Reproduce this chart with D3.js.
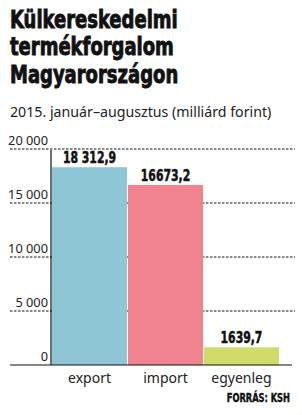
<!DOCTYPE html>
<html>
<head>
<meta charset="utf-8">
<script src="https://cdn.jsdelivr.net/npm/d3@7"></script>
<style>
  body { margin: 0; background: #fff; }
  svg { display: block; }
</style>
</head>
<body>
<div id="chart"></div>
<script>
const categories = ['export', 'import', 'egyenleg'];
const values = [18312.9, 16673.2, 1639.7];
const valueLabels = ['18 312,9', '16673,2', '1639,7'];
const yTicks = [0, 5000, 10000, 15000, 20000];
const titleLines = ['Külkereskedelmi', 'termékforgalom', 'Magyarországon'];
const subtitle = '2015. január–augusztus (milliárd forint)';
const source = 'FORRÁS: KSH';
const colors = ['#8ec6d6', '#f0848e', '#cfdc6a'];

const W = 302, H = 415;
const condensed = "'DejaVu Sans Condensed', 'DejaVu Sans', sans-serif";
const body = "'Noto Sans', 'Open Sans', sans-serif";

const svg = d3.select('#chart')
  .append('svg')
  .attr('width', W)
  .attr('height', H);

// title (squeezed horizontally to look like the narrow headline face)
const tx = 0.8;
svg.append('g')
  .attr('transform', `scale(${tx},1)`)
  .selectAll('text')
  .data(titleLines)
  .join('text')
  .attr('x', 10 / tx)
  .attr('y', (d, i) => 28 + i * 27.5)
  .style('font-family', condensed)
  .style('font-weight', 'bold')
  .style('font-size', '25px')
  .style('fill', '#111')
  .style('stroke', '#111')
  .style('stroke-width', '0.9px')
  .text(d => d);

svg.append('text')
  .attr('x', 10)
  .attr('y', 117)
  .style('font-family', body)
  .style('font-size', '14.2px')
  .style('fill', '#222')
  .text(subtitle);

// scales
const x = d3.scaleBand()
  .domain(categories)
  .range([52, 279])
  .paddingInner(0.012);

const y = d3.scaleLinear()
  .domain([0, 20000])
  .range([365, 149]);

// grid lines
svg.append('g')
  .selectAll('line')
  .data(yTicks.filter(d => d > 0))
  .join('line')
  .attr('x1', 10)
  .attr('x2', 295)
  .attr('y1', d => y(d))
  .attr('y2', d => y(d))
  .attr('stroke', '#111')
  .attr('stroke-width', 1)
  .attr('stroke-dasharray', '2.5,1.5');

// tick labels above lines
const fmt = d => d3.format(',')(d).replace(/,/g, ' ');
svg.append('g')
  .selectAll('text')
  .data(yTicks)
  .join('text')
  .attr('x', 48)
  .attr('y', d => y(d) - 4)
  .attr('text-anchor', 'end')
  .style('font-family', body)
  .style('font-size', '12.8px')
  .style('fill', '#222')
  .text(fmt);

// bars
svg.append('g')
  .selectAll('rect')
  .data(values)
  .join('rect')
  .attr('x', (d, i) => x(categories[i]))
  .attr('y', d => y(d))
  .attr('width', x.bandwidth())
  .attr('height', d => y(0) - y(d))
  .attr('fill', (d, i) => colors[i]);

// axes lines
svg.append('line')
  .attr('x1', 51).attr('x2', 51)
  .attr('y1', y(20000) + 1).attr('y2', y(0))
  .attr('stroke', '#111').attr('stroke-width', 1.2);

svg.append('line')
  .attr('x1', 10).attr('x2', 292)
  .attr('y1', y(0)).attr('y2', y(0))
  .attr('stroke', '#111').attr('stroke-width', 1.2);

// value labels
const vx = 0.78;
svg.append('g')
  .attr('transform', `scale(${vx},1)`)
  .selectAll('text')
  .data(values)
  .join('text')
  .attr('x', (d, i) => (x(categories[i]) + x.bandwidth() / 2) / vx)
  .attr('y', d => y(d) - 4)
  .attr('text-anchor', 'middle')
  .style('font-family', condensed)
  .style('font-weight', 'bold')
  .style('font-size', '15.5px')
  .style('fill', '#111')
  .style('stroke', '#111')
  .style('stroke-width', '0.5px')
  .text((d, i) => valueLabels[i]);

// category labels
svg.append('g')
  .selectAll('text')
  .data(categories)
  .join('text')
  .attr('x', d => x(d) + x.bandwidth() / 2)
  .attr('y', 383)
  .attr('text-anchor', 'middle')
  .style('font-family', body)
  .style('font-size', '14px')
  .style('fill', '#222')
  .text(d => d);

const sx = 0.8;
svg.append('text')
  .attr('transform', `scale(${sx},1)`)
  .attr('x', 290 / sx)
  .attr('y', 402)
  .attr('text-anchor', 'end')
  .style('font-family', condensed)
  .style('font-weight', 'bold')
  .style('font-size', '11.5px')
  .style('fill', '#111')
  .style('stroke', '#111')
  .style('stroke-width', '0.4px')
  .text(source);
</script>
</body>
</html>
